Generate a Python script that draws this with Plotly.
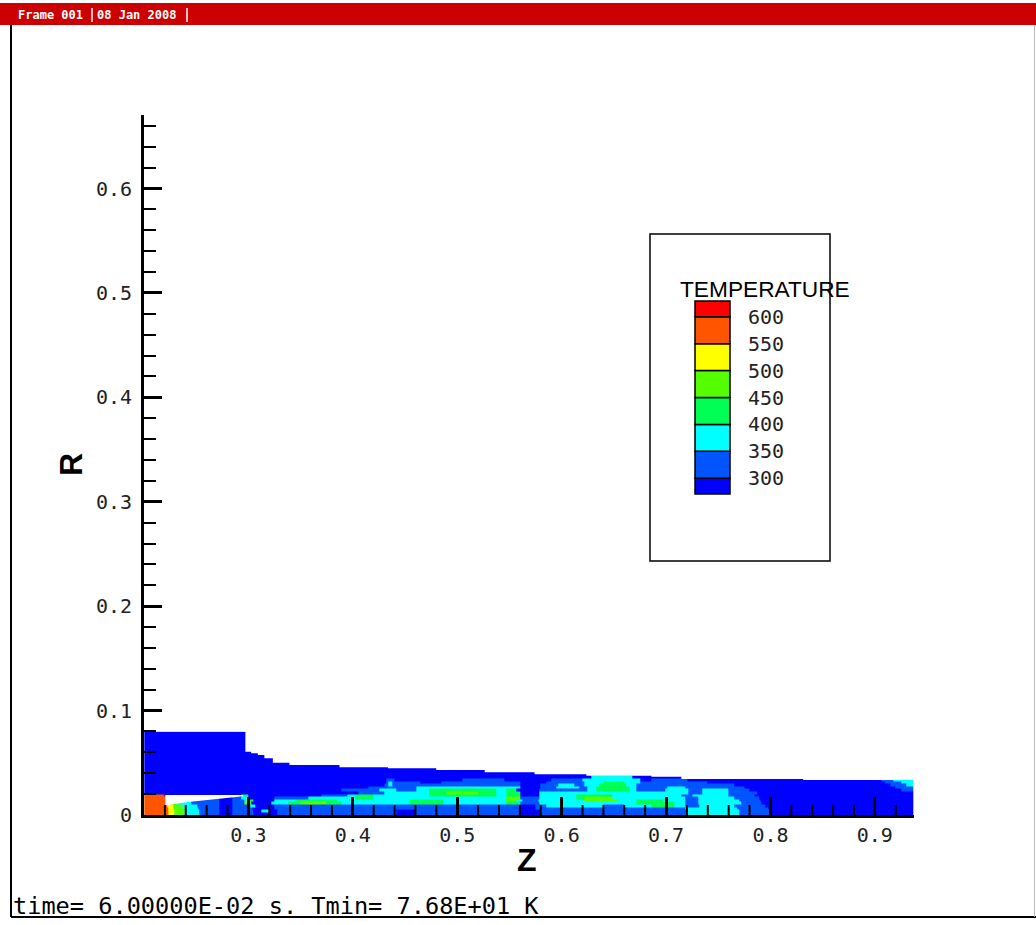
import plotly.graph_objects as go

# ---------------- data ----------------
LEVELS = [300, 350, 400, 450, 500, 550, 600]                     # legend contour levels (K)
BAND_NAMES = ["D", "B", "C", "G", "L", "Y", "O", "R"]              # bands below/between/above levels
BAND_TEMPS = [275, 325, 375, 425, 475, 525, 575, 625]              # representative band temperature
BAND_COLORS = ["#0000FF", "#0055FF", "#00FFFF", "#00FF55",
               "#55FF00", "#FFFF00", "#FF5500", "#FF0000"]

# outer wall of the domain: segment start Z (last = end of domain) and radius R
WALL_Z = [0.2003, 0.2971, 0.3026, 0.3090, 0.3153, 0.3234, 0.3393, 0.3872, 0.4336,
          0.4799, 0.5263, 0.5741, 0.6237, 0.6860, 0.7147, 0.8314, 0.9368]
WALL_R = [0.0798, 0.0607, 0.0591, 0.0575, 0.0543, 0.0501, 0.0479, 0.0457,
          0.0447, 0.0431, 0.0409, 0.0390, 0.0377, 0.0367, 0.0345, 0.0335]

# solid lip (no data) near the inlet
GAP_Z = [0.2205, 0.2950, 0.2950, 0.2800, 0.2600, 0.2400, 0.2205]
GAP_R = [0.0192, 0.0192, 0.0180, 0.0163, 0.0140, 0.0122, 0.0090]

# temperature bands along radial strips (R edges) : list of (Z start, band)
ROW_R_EDGES = [0.0, 0.0025, 0.005, 0.0075, 0.01, 0.0125, 0.015, 0.0175,
               0.02, 0.0225, 0.025, 0.0275, 0.03, 0.0325, 0.035, 0.0375, 0.0800]
ROWS = [
    [(0.2003, 'O'), (0.2235, 'Y'), (0.2290, 'L'), (0.2390, 'C'), (0.2530, 'B'), (0.2720, 'D'), (0.2850, 'B'),
     (0.3050, 'D'), (0.3280, 'B'), (0.4420, 'D'), (0.4600, 'B'), (0.5600, 'D'), (0.5800, 'B'), (0.7200, 'C'),
     (0.7700, 'B'), (0.8000, 'D')],
    [(0.2003, 'O'), (0.2235, 'Y'), (0.2290, 'L'), (0.2390, 'C'), (0.2530, 'B'), (0.2720, 'D'), (0.2850, 'B'),
     (0.3050, 'D'), (0.3120, 'C'), (0.3200, 'D'), (0.3280, 'B'), (0.4420, 'D'), (0.4600, 'B'), (0.5600, 'D'),
     (0.5800, 'B'), (0.7200, 'C'), (0.7700, 'B'), (0.8000, 'D')],
    [(0.2003, 'O'), (0.2230, 'Y'), (0.2285, 'L'), (0.2380, 'C'), (0.2520, 'B'), (0.2720, 'D'), (0.2850, 'B'),
     (0.3040, 'D'), (0.3250, 'B'), (0.5600, 'D'), (0.5750, 'B'), (0.7180, 'C'), (0.7680, 'B'), (0.7980, 'D')],
    [(0.2003, 'O'), (0.2225, 'Y'), (0.2280, 'L'), (0.2370, 'C'), (0.2510, 'B'), (0.2720, 'D'), (0.2850, 'B'),
     (0.3020, 'C'), (0.3070, 'D'), (0.3250, 'B'), (0.5600, 'D'), (0.5750, 'B'), (0.5850, 'C'), (0.6400, 'B'),
     (0.6600, 'C'), (0.6860, 'G'), (0.7080, 'C'), (0.7180, 'B'), (0.7320, 'C'), (0.7650, 'B'), (0.7950, 'D')],
    [(0.2003, 'O'), (0.2215, 'L'), (0.2300, 'C'), (0.2450, 'B'), (0.2720, 'D'), (0.2850, 'B'), (0.2960, 'L'),
     (0.3030, 'D'), (0.3220, 'C'), (0.3380, 'G'), (0.3500, 'L'), (0.3750, 'G'), (0.3890, 'C'), (0.4544, 'G'),
     (0.4863, 'C'), (0.5470, 'G'), (0.5600, 'B'), (0.5790, 'C'), (0.6720, 'G'), (0.7080, 'C'), (0.7180, 'B'),
     (0.7310, 'C'), (0.7720, 'B'), (0.7910, 'D')],
    [(0.2003, 'O'), (0.2200, 'L'), (0.2300, 'C'), (0.2450, 'B'), (0.2720, 'D'), (0.2850, 'B'), (0.2965, 'C'),
     (0.3010, 'G'), (0.3050, 'D'), (0.3250, 'C'), (0.3450, 'G'), (0.3850, 'C'), (0.4544, 'G'), (0.4863, 'C'),
     (0.5470, 'L'), (0.5570, 'C'), (0.5620, 'B'), (0.5780, 'C'), (0.6220, 'L'), (0.6540, 'C'), (0.6720, 'G'),
     (0.6970, 'C'), (0.7180, 'B'), (0.7310, 'C'), (0.7700, 'B'), (0.7900, 'D')],
    [(0.2003, 'O'), (0.2200, 'C'), (0.2450, 'B'), (0.2720, 'D'), (0.2850, 'B'), (0.2930, 'C'), (0.2995, 'D'),
     (0.3250, 'B'), (0.3570, 'C'), (0.4020, 'G'), (0.4200, 'C'), (0.5470, 'L'), (0.5600, 'B'), (0.5790, 'C'),
     (0.6140, 'G'), (0.6220, 'L'), (0.6490, 'C'), (0.7180, 'B'), (0.7310, 'C'), (0.7650, 'B'), (0.7890, 'D')],
    [(0.2003, 'O'), (0.2195, 'D'), (0.2930, 'G'), (0.3000, 'D'), (0.3700, 'B'), (0.3950, 'C'), (0.4020, 'G'),
     (0.4200, 'C'), (0.4736, 'G'), (0.5375, 'C'), (0.5470, 'G'), (0.5600, 'D'), (0.5790, 'C'), (0.6140, 'G'),
     (0.6490, 'C'), (0.7150, 'B'), (0.7250, 'C'), (0.7600, 'B'), (0.7850, 'D')],
    [(0.2003, 'D'), (0.4050, 'B'), (0.4300, 'C'), (0.4736, 'G'), (0.4900, 'L'), (0.5200, 'G'), (0.5375, 'C'),
     (0.5470, 'G'), (0.5600, 'D'), (0.5790, 'C'), (0.7210, 'B'), (0.7350, 'C'), (0.7600, 'B'), (0.7870, 'D')],
    [(0.2003, 'D'), (0.3890, 'B'), (0.4250, 'C'), (0.4416, 'B'), (0.4610, 'C'), (0.4736, 'G'), (0.5375, 'C'),
     (0.5470, 'G'), (0.5570, 'D'), (0.5790, 'B'), (0.6250, 'C'), (0.6330, 'G'), (0.6650, 'C'), (0.6720, 'B'),
     (0.6990, 'C'), (0.7210, 'B'), (0.7350, 'C'), (0.7595, 'B'), (0.7800, 'D'), (0.9250, 'B')],
    [(0.2003, 'D'), (0.4150, 'B'), (0.4610, 'C'), (0.5600, 'D'), (0.5800, 'B'), (0.5950, 'C'), (0.6170, 'B'),
     (0.6250, 'C'), (0.6330, 'G'), (0.6650, 'C'), (0.6720, 'B'), (0.7010, 'C'), (0.7180, 'B'), (0.7750, 'D'),
     (0.9200, 'B')],
    [(0.2003, 'D'), (0.4300, 'B'), (0.4340, 'C'), (0.4380, 'B'), (0.5600, 'D'), (0.5800, 'B'), (0.5970, 'C'),
     (0.6120, 'B'), (0.6220, 'C'), (0.6360, 'G'), (0.6620, 'C'), (0.6720, 'B'), (0.7650, 'D'), (0.9150, 'B'),
     (0.9300, 'C')],
    [(0.2003, 'D'), (0.4320, 'B'), (0.4340, 'C'), (0.4380, 'B'), (0.4650, 'D'), (0.4850, 'B'), (0.5600, 'D'),
     (0.5850, 'B'), (0.6220, 'C'), (0.6400, 'G'), (0.6600, 'C'), (0.6750, 'B'), (0.7400, 'D'), (0.9100, 'B'),
     (0.9250, 'C')],
    [(0.2003, 'D'), (0.4320, 'B'), (0.4400, 'D'), (0.5050, 'B'), (0.5450, 'D'), (0.5900, 'B'), (0.6200, 'C'),
     (0.6750, 'D'), (0.6860, 'B'), (0.7200, 'D'), (0.9065, 'B'), (0.9180, 'C')],
    [(0.2003, 'D'), (0.6280, 'C'), (0.6680, 'D')],
    [(0.2003, 'D')],
]

X_TICKS = [0.3, 0.4, 0.5, 0.6, 0.7, 0.8, 0.9]
Y_TICKS = [0, 0.1, 0.2, 0.3, 0.4, 0.5, 0.6]
MINOR_STEP = 0.02

# ---------------- page geometry ----------------
W, H = 1036, 925
ML, MR, MT, MB = 144, 122, 115, 110
PW, PH = W - ML - MR, H - MT - MB
X_RANGE = [0.2, 0.9375]
Y_RANGE = [0.0, PH / (PW / (X_RANGE[1] - X_RANGE[0]))]


def px(x):
    return (x - ML) / PW


def py(y):
    return (H - MB - y) / PH


# ---------------- build the banded field ----------------
temp_of = dict(zip(BAND_NAMES, BAND_TEMPS))
z_end = WALL_Z[-1]
edges = sorted(set([s for row in ROWS for s, _ in row] + [z_end]))
edges = [e for e in edges if e <= z_end]
mids = [(a + b) / 2 for a, b in zip(edges[:-1], edges[1:])]
field = []
for row in ROWS:
    vals = []
    for m in mids:
        code = row[0][1]
        for s, c in row:
            if s <= m:
                code = c
        vals.append(temp_of[code])
    field.append(vals)

zmin, zmax = 250, 650
nb = len(BAND_COLORS)
cscale = []
for k, c in enumerate(BAND_COLORS):
    cscale.append([k / nb, c])
    cscale.append([(k + 1) / nb, c])

# region outside the wall (blanked)
out_z, out_r = [], []
for i in range(len(WALL_R)):
    out_z += [WALL_Z[i], WALL_Z[i + 1]]
    out_r += [WALL_R[i], WALL_R[i]]
out_z += [z_end + 0.002, z_end + 0.002, WALL_Z[0]]
out_r += [WALL_R[-1], 0.1, 0.1]

# minor tick positions on Z (between the labelled ticks)
x_minor = []
k = 1
while X_RANGE[0] + k * MINOR_STEP <= X_RANGE[1] + 1e-9:
    v = round(X_RANGE[0] + k * MINOR_STEP, 4)
    if all(abs(v - t) > 1e-6 for t in X_TICKS):
        x_minor.append(v)
    k += 1

fig = go.Figure()
fig.add_trace(go.Heatmap(x=edges, y=ROW_R_EDGES, z=field, zmin=zmin, zmax=zmax,
                         colorscale=cscale, showscale=False, hoverinfo="skip"))
fig.add_trace(go.Scatter(x=out_z, y=out_r, mode="lines", line=dict(width=0),
                         fill="toself", fillcolor="white", hoverinfo="skip", showlegend=False))
fig.add_trace(go.Scatter(x=GAP_Z, y=GAP_R, mode="lines", line=dict(width=0),
                         fill="toself", fillcolor="white", hoverinfo="skip", showlegend=False))

tickfont = dict(family="DejaVu Sans Mono", size=20, color="#222222")
axis_common = dict(ticks="inside", ticklen=18, tickwidth=3, tickcolor="black",
                   showline=True, linecolor="black", linewidth=3, showgrid=False,
                   zeroline=False, tickfont=tickfont, layer="above traces")
fig.update_layout(
    xaxis=dict(range=X_RANGE, tickvals=X_TICKS, ticktext=[f"{v:.1f}" for v in X_TICKS], **axis_common),
    yaxis=dict(range=Y_RANGE, tickvals=Y_TICKS, ticktext=[("0" if v == 0 else f"{v:.1f}") for v in Y_TICKS],
               minor=dict(tickmode="linear", tick0=0, dtick=MINOR_STEP, ticks="inside",
                          ticklen=12, tickwidth=2, tickcolor="black", showgrid=False),
               ticklabelstandoff=5, **axis_common),
)

shapes = []
ann = []
# minor ticks of the Z axis (pointing into the plot)
for v in x_minor:
    shapes.append(dict(type="line", xref="x", yref="paper", x0=v, x1=v, y0=0, y1=10 / PH,
                       line=dict(color="black", width=2), layer="above"))
# frame
shapes.append(dict(type="rect", xref="paper", yref="paper", x0=px(0), x1=px(W), y0=py(25), y1=py(3),
                   fillcolor="#CC0000", line=dict(width=0), layer="above"))
shapes.append(dict(type="line", xref="paper", yref="paper", x0=px(11), x1=px(11), y0=py(25), y1=py(917),
                   line=dict(color="black", width=2)))
shapes.append(dict(type="line", xref="paper", yref="paper", x0=px(11), x1=px(W), y0=py(917), y1=py(917),
                   line=dict(color="black", width=2)))
shapes.append(dict(type="line", xref="paper", yref="paper", x0=px(1034.5), x1=px(1034.5), y0=py(25), y1=py(917),
                   line=dict(color="#BBBBBB", width=1)))
for sx in (92, 187):
    shapes.append(dict(type="line", xref="paper", yref="paper", x0=px(sx), x1=px(sx), y0=py(8), y1=py(22),
                       line=dict(color="white", width=1.5)))
hdr = dict(family="DejaVu Sans Mono", size=12, color="white")
ann.append(dict(text="<b>Frame 001</b>", x=px(16), y=py(15), xref="paper", yref="paper",
                xanchor="left", yanchor="middle", showarrow=False, font=hdr))
ann.append(dict(text="<b>08 Jan 2008</b>", x=px(95), y=py(15), xref="paper", yref="paper",
                xanchor="left", yanchor="middle", showarrow=False, font=hdr))

# axis titles
ann.append(dict(text="<b>Z</b>", x=px(527), y=py(860), xref="paper", yref="paper", xanchor="center",
                yanchor="middle", showarrow=False, font=dict(family="Liberation Sans", size=32, color="black")))
ann.append(dict(text="<b>R</b>", x=px(71), y=py(465), xref="paper", yref="paper", xanchor="center",
                yanchor="middle", showarrow=False, textangle=-90,
                font=dict(family="Liberation Sans", size=32, color="black")))

# bottom info line
ann.append(dict(text="time= 6.00000E-02 s. Tmin= 7.68E+01 K", x=px(11), y=py(906), xref="paper", yref="paper",
                xanchor="left", yanchor="middle", showarrow=False,
                font=dict(family="DejaVu Sans Mono", size=23.6, color="black")))

# legend box
shapes.append(dict(type="rect", xref="paper", yref="paper", x0=px(650), x1=px(830), y0=py(561), y1=py(234),
                   line=dict(color="black", width=1.5), fillcolor="rgba(0,0,0,0)"))
ann.append(dict(text="TEMPERATURE", x=px(678), y=py(289), xref="paper", yref="paper", xanchor="left",
                yanchor="middle", showarrow=False, font=dict(family="Liberation Sans", size=22.7, color="black")))
lab_y0, step = 478.3, 26.93           # pixel position of first level label and spacing
cap = 15.7                            # half-band at both ends
level_y = [lab_y0 - j * step for j in range(len(LEVELS))]
band_bounds = [level_y[0] + cap] + level_y + [level_y[-1] - cap]
for k, c in enumerate(BAND_COLORS):
    shapes.append(dict(type="rect", xref="paper", yref="paper", x0=px(695), x1=px(730),
                       y0=py(band_bounds[k]), y1=py(band_bounds[k + 1]),
                       fillcolor=c, line=dict(color="black", width=1.5)))
for lev, yy in zip(LEVELS, level_y):
    ann.append(dict(text=str(lev), x=px(746), y=py(yy), xref="paper", yref="paper", xanchor="left",
                    yanchor="middle", showarrow=False,
                    font=dict(family="DejaVu Sans Mono", size=20, color="#222222")))

fig.update_layout(width=W, height=H, margin=dict(l=ML, r=MR, t=MT, b=MB, pad=0),
                  paper_bgcolor="white", plot_bgcolor="white", showlegend=False,
                  shapes=shapes, annotations=ann)

fig.write_html("out.html", config={"displayModeBar": False},
               post_script="document.body.style.margin='0';document.body.style.overflow='hidden';")
